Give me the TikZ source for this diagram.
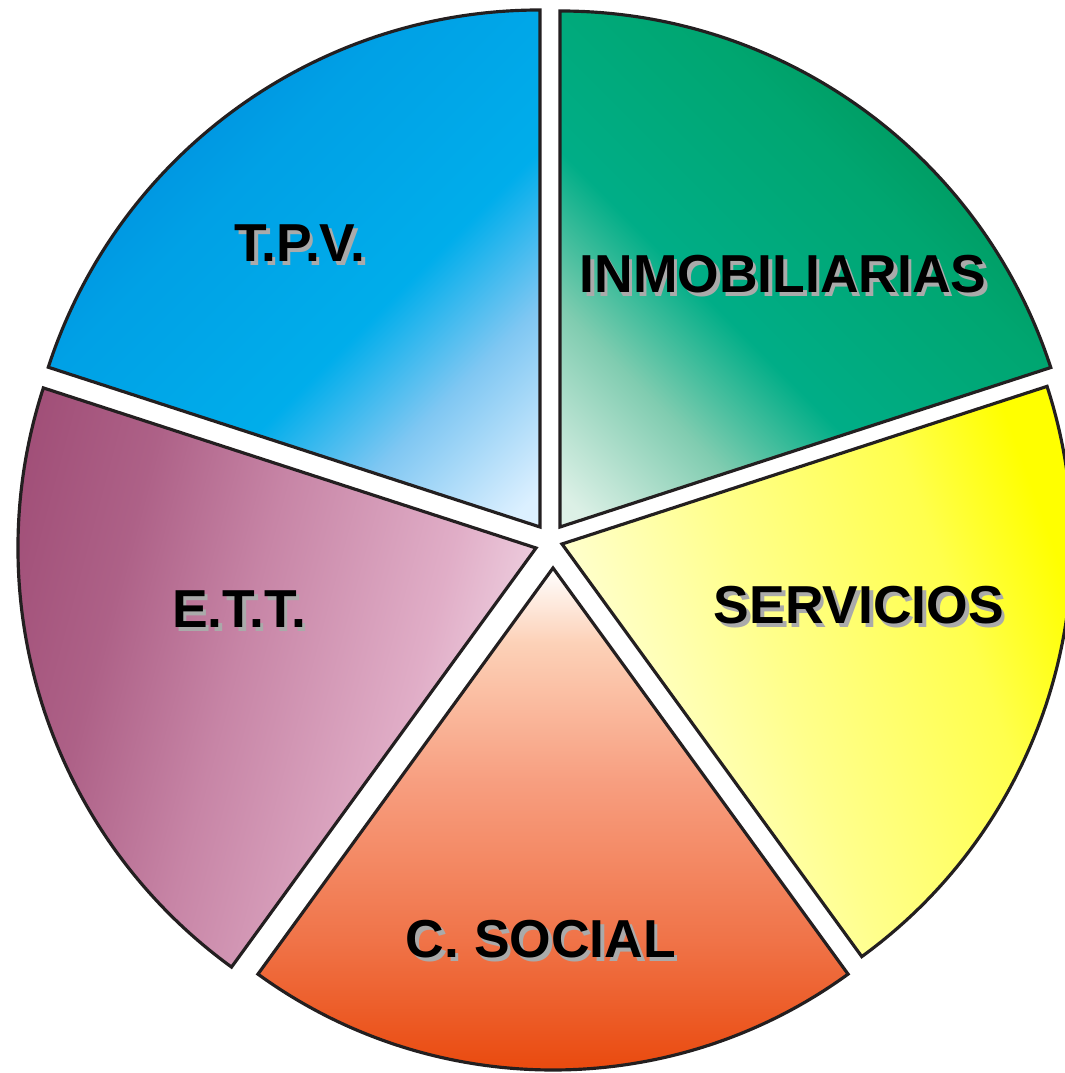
\documentclass[tikz,border=0pt]{standalone}
\usepackage{fontspec}
\setmainfont{Liberation Sans}
\usetikzlibrary{calc}

\definecolor{rimgray}{HTML}{231F20}
\definecolor{shadowgray}{HTML}{AAAAAA}

% colour ramps, low end = light part at the centre, high end = outer part
\pgfdeclareverticalshading{tpvshade}{100bp}{rgb(0bp)=(0.94,0.98,1); rgb(17bp)=(0.86,0.94,1); rgb(30bp)=(0.50,0.78,0.95); rgb(41bp)=(0,0.68,0.92); rgb(60bp)=(0,0.63,0.90); rgb(78bp)=(0,0.53,0.86); rgb(100bp)=(0,0.53,0.86)}
\pgfdeclareverticalshading{inmshade}{100bp}{rgb(0bp)=(0.94,0.98,0.96); rgb(17bp)=(0.86,0.94,0.90); rgb(30bp)=(0.50,0.80,0.69); rgb(41bp)=(0,0.68,0.53); rgb(60bp)=(0,0.65,0.44); rgb(78bp)=(0,0.56,0.31); rgb(100bp)=(0,0.56,0.31)}
\pgfdeclareverticalshading{sershade}{100bp}{rgb(0bp)=(1,1,0.90); rgb(25bp)=(1,1,0.90); rgb(45bp)=(1,1,0.55); rgb(62bp)=(1,1,0.30); rgb(72bp)=(1,1,0); rgb(100bp)=(1,1,0)}
\pgfdeclareverticalshading{csocshade}{100bp}{rgb(0bp)=(0.91,0.25,0); rgb(25bp)=(0.91,0.25,0); rgb(40bp)=(0.94,0.45,0.28); rgb(55bp)=(0.97,0.62,0.50); rgb(68bp)=(0.99,0.82,0.72); rgb(75bp)=(1,1,1); rgb(100bp)=(1,1,1)}
\pgfdeclareverticalshading{ettshade}{100bp}{rgb(0bp)=(0.99,0.96,0.98); rgb(22bp)=(0.97,0.90,0.94); rgb(36bp)=(0.88,0.68,0.78); rgb(52bp)=(0.78,0.52,0.65); rgb(64bp)=(0.68,0.38,0.53); rgb(75bp)=(0.63,0.31,0.47); rgb(100bp)=(0.63,0.31,0.47)}

\newcommand{\shadowed}[1]{\makebox[0pt][l]{\hspace{1pt}\raisebox{-1pt}{\color{shadowgray}#1}}#1}

\begin{document}
\begin{tikzpicture}[
        x=0.01cm, y=0.01cm,
        slice/.style={draw=rimgray, line width=0.9pt, line join=miter},
        slicetext/.style={font=\fontsize{15.2}{18}\selectfont\bfseries, inner sep=0pt}
    ]
    \useasboundingbox (0,0) rectangle (1065,1073);
    \clip (0,0) rectangle (1065,1073);

    % apex of every slice
    \coordinate (tpv) at (540,546);
    \coordinate (inm) at (560,546);
    \coordinate (ser) at (562,529);
    \coordinate (csoc) at (553,505);
    \coordinate (ett) at (536,525);

    \shadedraw [slice, shading=tpvshade, shading angle=45] (tpv) -- ++(162:517) arc[start angle=162, end angle=90, radius=517] -- cycle;
    \shadedraw [slice, shading=inmshade, shading angle=-45] (inm) -- ++(90:516) arc[start angle=90, end angle=18, radius=516] -- cycle;
    \shadedraw [slice, shading=sershade, shading angle=-70] (ser) -- ++(18:510) arc[start angle=18, end angle=-54, radius=510] -- cycle;
    \shadedraw [slice, shading=csocshade] (csoc) -- ++(-54:502) arc[start angle=-54, end angle=-126, radius=502] -- cycle;
    \shadedraw [slice, shading=ettshade, shading angle=75] (ett) -- ++(234:518) arc[start angle=234, end angle=162, radius=518] -- cycle;

    \node (tpvtext) [slicetext] at (300,828) {\shadowed{T.P.V.}};
    \node (inmtext) [slicetext] at (783,797) {\shadowed{INMOBILIARIAS}};
    \node (sertext) [slicetext] at (859,466) {\shadowed{SERVICIOS}};
    \node (csoctext) [slicetext] at (541,132) {\shadowed{C. SOCIAL}};
    \node (etttext) [slicetext] at (239,462) {\shadowed{E.T.T.}};

\end{tikzpicture}
\end{document}
